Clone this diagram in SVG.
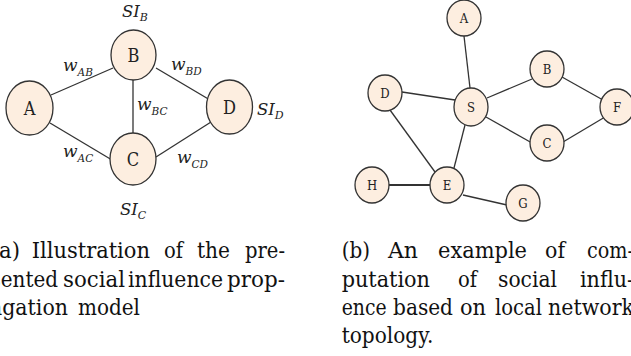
<svg xmlns="http://www.w3.org/2000/svg" width="631" height="356" viewBox="0 0 631 356">
<style>
.node ellipse{fill:#fdeee0;stroke:#333;stroke-width:1.3}
.lbl{font-family:'DejaVu Serif',serif;font-stretch:condensed;fill:#222;text-anchor:middle}
.big{font-size:18px}
.small{font-size:13px}
.edges line{stroke:#333;stroke-width:1.3}
.math{font-family:'DejaVu Serif',serif;font-style:italic;fill:#222}
.cap{font-family:'DejaVu Serif',serif;font-size:21.5px;fill:#111}
</style>
<rect width="631" height="356" fill="#fff"/>
<!-- left diagram -->
<g class="edges" id="edges-a">
<line x1="51" y1="95" x2="113" y2="68"/>
<line x1="50" y1="123" x2="112" y2="160"/>
<line x1="133" y1="80" x2="133" y2="133"/>
<line x1="156" y1="68" x2="210" y2="100"/>
<line x1="156" y1="157" x2="211" y2="122"/>
</g>
<g id="a-A" class="node"><ellipse cx="29.5" cy="108" rx="23.5" ry="27"/><text class="lbl big" x="29.5" y="115">A</text></g>
<g id="a-B" class="node"><ellipse cx="133.5" cy="55" rx="22.5" ry="25"/><text class="lbl big" x="133.5" y="62">B</text></g>
<g id="a-C" class="node"><ellipse cx="133" cy="159" rx="23" ry="26"/><text class="lbl big" x="133" y="166">C</text></g>
<g id="a-D" class="node"><ellipse cx="229.5" cy="107" rx="23" ry="27"/><text class="lbl big" x="229.5" y="114">D</text></g>
<g id="labels-a" class="math">
<text x="122" y="17" font-size="16.5">SI<tspan font-size="11" dy="4">B</tspan></text>
<text x="257" y="115" font-size="16.5">SI<tspan font-size="11" dy="4">D</tspan></text>
<text x="120" y="215" font-size="16.5">SI<tspan font-size="11" dy="4">C</tspan></text>
<text x="63" y="71" font-size="17">w<tspan font-size="10.5" dy="5">AB</tspan></text>
<text x="171" y="70" font-size="17">w<tspan font-size="10.5" dy="5">BD</tspan></text>
<text x="137" y="110" font-size="17">w<tspan font-size="10.5" dy="5">BC</tspan></text>
<text x="63" y="157" font-size="17">w<tspan font-size="10.5" dy="5">AC</tspan></text>
<text x="177" y="163" font-size="17">w<tspan font-size="10.5" dy="5">CD</tspan></text>
</g>
<!-- right diagram -->
<g class="edges" id="edges-b">
<line x1="464" y1="36" x2="470" y2="88"/>
<line x1="402" y1="92" x2="455" y2="100"/>
<line x1="487" y1="98" x2="532" y2="79"/>
<line x1="486" y1="117" x2="532" y2="143"/>
<line x1="562" y1="77" x2="603" y2="100"/>
<line x1="563" y1="142" x2="605" y2="117"/>
<line x1="390" y1="110" x2="435" y2="172"/>
<line x1="465" y1="125" x2="454" y2="168"/>
<line x1="388" y1="185" x2="431" y2="185" style="stroke-width:2"/>
<line x1="463" y1="195" x2="507" y2="205"/>
</g>
<g id="b-A" class="node"><ellipse cx="464" cy="18" rx="17" ry="18"/><text class="lbl small" x="464" y="23">A</text></g>
<g id="b-B" class="node"><ellipse cx="547" cy="69" rx="17" ry="18"/><text class="lbl small" x="547" y="74">B</text></g>
<g id="b-D" class="node"><ellipse cx="385" cy="93" rx="17" ry="18"/><text class="lbl small" x="385" y="98">D</text></g>
<g id="b-S" class="node"><ellipse cx="471" cy="107" rx="17" ry="19"/><text class="lbl small" x="471" y="112">S</text></g>
<g id="b-F" class="node"><ellipse cx="617" cy="107" rx="17" ry="18"/><text class="lbl small" x="617" y="112">F</text></g>
<g id="b-C" class="node"><ellipse cx="547" cy="143" rx="17" ry="18"/><text class="lbl small" x="547" y="148">C</text></g>
<g id="b-H" class="node"><ellipse cx="372" cy="185" rx="17" ry="18"/><text class="lbl small" x="372" y="190">H</text></g>
<g id="b-E" class="node"><ellipse cx="447" cy="185" rx="17" ry="18"/><text class="lbl small" x="447" y="190">E</text></g>
<g id="b-G" class="node"><ellipse cx="523" cy="203" rx="17" ry="18"/><text class="lbl small" x="523" y="208">G</text></g>
<!-- captions -->
<g id="caption-a" class="cap">
<text x="-9.3" y="258" textLength="29.3" lengthAdjust="spacingAndGlyphs">(a)</text>
<text x="31.7" y="258" textLength="118.3" lengthAdjust="spacingAndGlyphs">Illustration</text>
<text x="164" y="258" textLength="19" lengthAdjust="spacingAndGlyphs">of</text>
<text x="197" y="258" textLength="33" lengthAdjust="spacingAndGlyphs">the</text>
<text x="245" y="258" textLength="40" lengthAdjust="spacingAndGlyphs">pre-</text>
<text x="-9.5" y="287" textLength="67.5" lengthAdjust="spacingAndGlyphs">sented</text>
<text x="63" y="287" textLength="62" lengthAdjust="spacingAndGlyphs">social</text>
<text x="128" y="287" textLength="95" lengthAdjust="spacingAndGlyphs">influence</text>
<text x="227" y="287" textLength="58" lengthAdjust="spacingAndGlyphs">prop-</text>
<text x="-10" y="315" textLength="78" lengthAdjust="spacingAndGlyphs">agation</text>
<text x="78" y="315" textLength="62" lengthAdjust="spacingAndGlyphs">model</text>
</g>
<g id="caption-b" class="cap">
<text x="341.7" y="258" textLength="28.3" lengthAdjust="spacingAndGlyphs">(b)</text>
<text x="388" y="258" textLength="30" lengthAdjust="spacingAndGlyphs">An</text>
<text x="438" y="258" textLength="89" lengthAdjust="spacingAndGlyphs">example</text>
<text x="545" y="258" textLength="20" lengthAdjust="spacingAndGlyphs">of</text>
<text x="587" y="258" textLength="47" lengthAdjust="spacingAndGlyphs">com-</text>
<text x="341.7" y="287" textLength="88.3" lengthAdjust="spacingAndGlyphs">putation</text>
<text x="458" y="287" textLength="19" lengthAdjust="spacingAndGlyphs">of</text>
<text x="498" y="287" textLength="59" lengthAdjust="spacingAndGlyphs">social</text>
<text x="580" y="287" textLength="54" lengthAdjust="spacingAndGlyphs">influ-</text>
<text x="341.7" y="315" textLength="45" lengthAdjust="spacingAndGlyphs">ence</text>
<text x="393" y="315" textLength="60" lengthAdjust="spacingAndGlyphs">based</text>
<text x="460" y="315" textLength="26" lengthAdjust="spacingAndGlyphs">on</text>
<text x="495" y="315" textLength="47" lengthAdjust="spacingAndGlyphs">local</text>
<text x="548" y="315" textLength="86" lengthAdjust="spacingAndGlyphs">network</text>
<text x="341.7" y="343" textLength="91.6" lengthAdjust="spacingAndGlyphs">topology.</text>
</g>
</svg>
